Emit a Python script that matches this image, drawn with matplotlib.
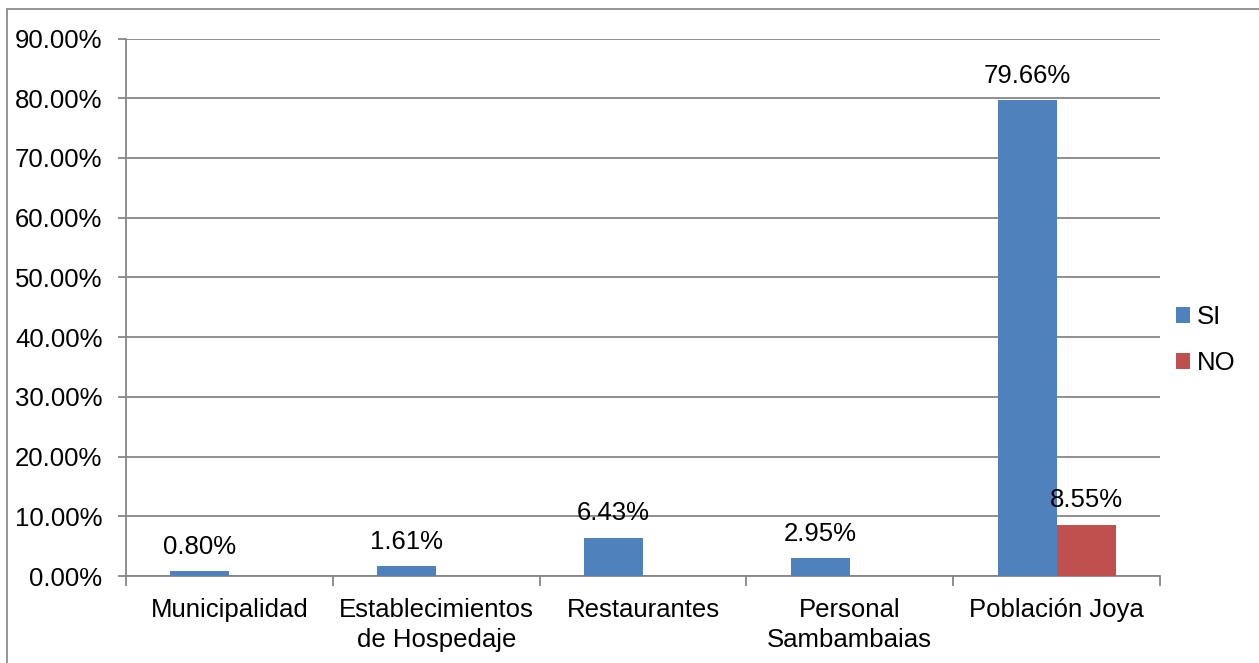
import matplotlib
matplotlib.use("Agg")
import matplotlib.pyplot as plt
from matplotlib.patches import Rectangle
from matplotlib.ticker import FuncFormatter, MultipleLocator
import numpy as np

plt.rcParams['font.family'] = ['Liberation Sans', 'DejaVu Sans']

categories = ["Municipalidad", "Establecimientos\nde Hospedaje", "Restaurantes",
              "Personal\nSambambaias", "Población Joya"]
si_values = [0.80, 1.61, 6.43, 2.95, 79.66]
no_values = [0.0, 0.0, 0.0, 0.0, 8.55]
series_names = ["SI", "NO"]

blue = "#4F81BD"
red = "#C0504D"
grid_gray = "#868686"
fs = 18.5

fig = plt.figure(figsize=(12.59, 6.63), dpi=100)
ax = fig.add_axes([126 / 1259, 1 - 576 / 663, (1160 - 126) / 1259, (576 - 38.5) / 663])

# chart area border (runs off the right / bottom of the picture)
fig.patches.append(Rectangle((7 / 1259, -0.1), 1.2, 1 - 9 / 663 + 0.1,
                             transform=fig.transFigure, fill=False,
                             edgecolor="#8c8c8c", linewidth=1.3, zorder=0))

x = np.arange(len(categories))
w = 1 / 3.5
b_si = ax.bar(x - w / 2, si_values, w, color=blue, label=series_names[0], zorder=3)
b_no = ax.bar(x + w / 2, no_values, w, color=red, label=series_names[1], zorder=3)

for bars, vals in ((b_si, si_values), (b_no, no_values)):
    for rect, v in zip(bars, vals):
        if v == 0:
            continue
        ax.annotate(f"{v:.2f}%", xy=(rect.get_x() + rect.get_width() / 2, v),
                    xytext=(0, 9), textcoords="offset points",
                    ha="center", va="bottom", fontsize=fs, color="black")

ax.set_xlim(-0.5, len(categories) - 0.5)
ax.set_ylim(0, 90)
ax.yaxis.set_major_locator(MultipleLocator(10))
ax.yaxis.set_major_formatter(FuncFormatter(lambda v, p: f"{v:.2f}%"))
ax.grid(axis="y", color=grid_gray, linewidth=1.3, zorder=0)
ax.set_axisbelow(True)

ax.set_xticks(x)
ax.set_xticklabels(categories, fontsize=fs, linespacing=1.3)
ax.set_xticks(np.arange(-0.5, len(categories)), minor=True)
ax.tick_params(axis="x", which="major", length=0, pad=16)
ax.tick_params(axis="x", which="minor", length=7, width=1.3, color=grid_gray)
ax.tick_params(axis="y", length=6, width=1.3, color=grid_gray, labelsize=fs, pad=11)

for s in ("top", "right"):
    ax.spines[s].set_visible(False)
for s in ("left", "bottom"):
    ax.spines[s].set_color(grid_gray)
    ax.spines[s].set_linewidth(1.3)

fig.legend(handles=[b_si, b_no], loc="center left",
           bbox_to_anchor=(1166 / 1259, 1 - 340 / 663), frameon=False,
           fontsize=fs, handlelength=0.55, handleheight=0.55,
           handletextpad=0.25, labelspacing=0.85, borderaxespad=0)

fig.savefig("out.png", dpi=100, facecolor="white")
